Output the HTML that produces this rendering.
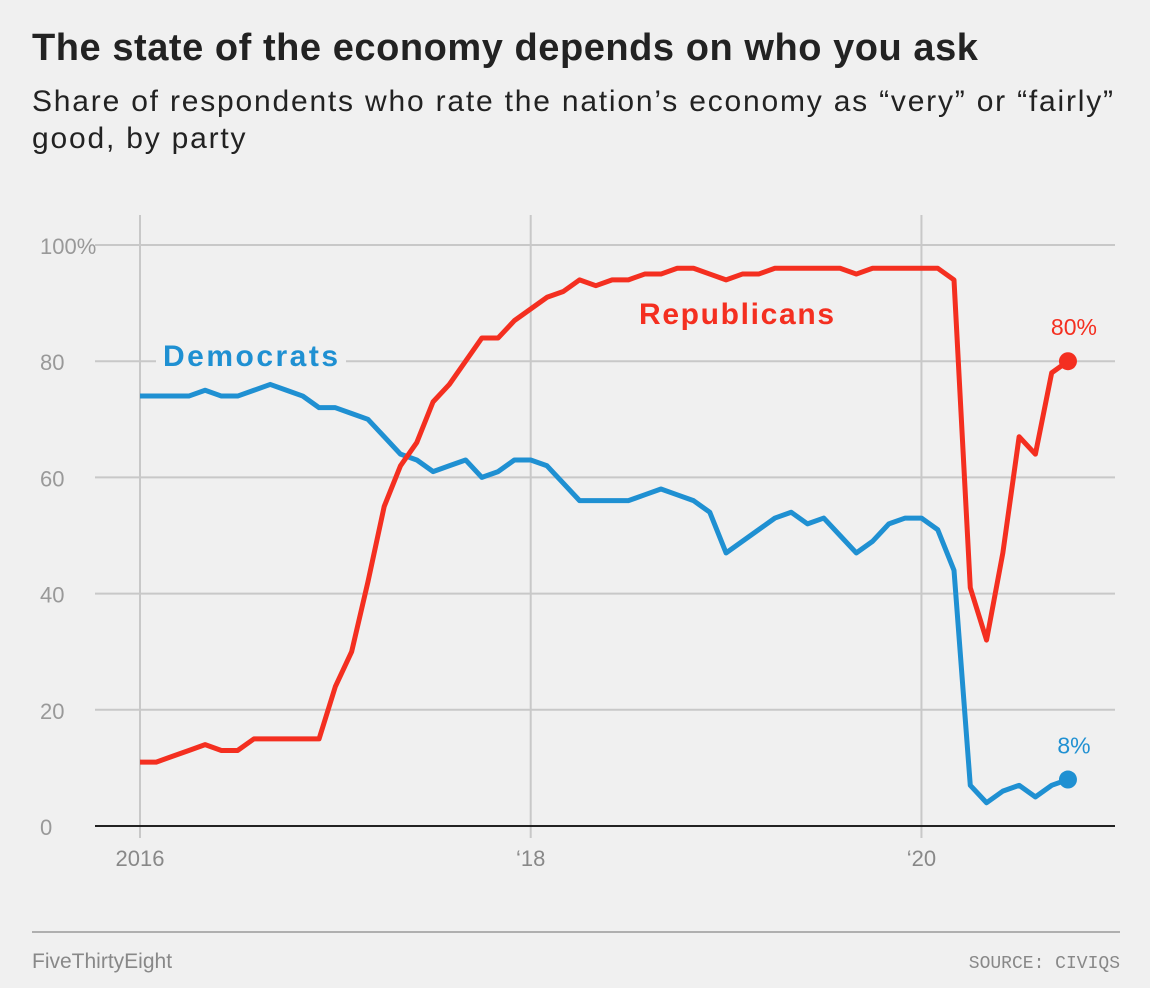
<!DOCTYPE html>
<html><head><meta charset="utf-8"><style>
body{margin:0;background:#f0f0f0;font-family:"Liberation Sans",sans-serif;}
#wrap{position:relative;width:1150px;height:988px;background:#f0f0f0;overflow:hidden}
h1{position:absolute;left:32px;top:27px;margin:0;font-size:38px;font-weight:bold;color:#222;letter-spacing:0.55px;white-space:nowrap}
.sub{position:absolute;left:32px;top:83px;font-size:30px;line-height:37px;color:#222;width:1110px;letter-spacing:1.8px;white-space:nowrap}
</style></head><body>
<div id="wrap">
<h1>The state of the economy depends on who you ask</h1>
<div class="sub">Share of respondents who rate the nation’s economy as “very” or “fairly”<br>good, by party</div>
<svg id="chart" width="1150" height="988" style="position:absolute;left:0;top:0"></svg>
</div>
<script>
const yTicks=[0,20,40,60,80,100];
const yTickLabels=["0","20","40","60","80","100%"];
const xTickMonths=[0,24,48];
const xTickLabels=["2016","‘18","‘20"];
const demValues=[74,74,74,74,75,74,74,75,76,75,74,72,72,71,70,67,64,63,61,62,63,60,61,63,63,62,59,56,56,56,56,57,58,57,56,54,47,49,51,53,54,52,53,50,47,49,52,53,53,51,44,7,4,6,7,5,7,8];
const repValues=[11,11,12,13,14,13,13,15,15,15,15,15,24,30,42,55,62,66,73,76,80,84,84,87,89,91,92,94,93,94,94,95,95,96,96,95,94,95,95,96,96,96,96,96,95,96,96,96,96,96,94,41,32,47,67,64,78,80];
const svg=document.getElementById('chart');
const NS='http://www.w3.org/2000/svg';
const x=i=>140+i*16.28;
const y=v=>826-v*5.81;
function mk(t,a){const e=document.createElementNS(NS,t);for(const k in a)e.setAttribute(k,a[k]);svg.appendChild(e);return e;}
yTicks.forEach((v,i)=>{
  if(v>0){const l=mk('line',{x1:95,x2:1115,y1:y(v),y2:y(v),stroke:'#c8c8c8','stroke-width':2});
  
  }
  const t=mk('text',{x:40,y:y(v)+9,'font-size':22,fill:'#999','font-family':'Liberation Sans, sans-serif'});
  t.textContent=yTickLabels[i];
  
  
});
xTickMonths.forEach((m,i)=>{
  const l=mk('line',{x1:x(m),x2:x(m),y1:215,y2:838,stroke:'#c8c8c8','stroke-width':2});
  
  
  const t=mk('text',{x:x(m),y:866,'font-size':22,fill:'#888','text-anchor':'middle','font-family':'Liberation Sans, sans-serif'});
  t.textContent=xTickLabels[i];
  
  
});
const base=mk('line',{x1:95,x2:1115,y1:y(0),y2:y(0),stroke:'#222','stroke-width':2});


function series(vals,col,name){
  const p=mk('polyline',{points:vals.map((v,i)=>x(i)+','+y(v)).join(' '),fill:'none',stroke:col,'stroke-width':5,'stroke-linejoin':'round'});
  
  
  const n=vals.length-1;
  const c=mk('circle',{cx:x(n),cy:y(vals[n]),r:9,fill:col});
  
  
  const t=mk('text',{x:x(n)+6,y:y(vals[n])-26,'font-size':23,fill:col,'text-anchor':'middle','font-family':'Liberation Sans, sans-serif'});
  t.textContent=vals[n]+'%';
  
  
}
series(demValues,'#1f90d2','democrats');
series(repValues,'#f42f20','republicans');
const r1=mk('rect',{x:156,y:338,width:190,height:36,fill:'#f0f0f0'});


const dl=mk('text',{x:163,y:366,'font-size':30,'font-weight':'bold',fill:'#1f90d2','font-family':'Liberation Sans, sans-serif','textLength':175});
dl.textContent='Democrats';


const rl=mk('text',{x:639,y:324,'font-size':30,'font-weight':'bold',fill:'#f42f20','font-family':'Liberation Sans, sans-serif','textLength':195});
rl.textContent='Republicans';


const fl=mk('line',{x1:32,x2:1120,y1:932,y2:932,stroke:'#999','stroke-width':1.5});


const f1=mk('text',{x:32,y:968,'font-size':21,fill:'#888','font-family':'Liberation Sans, sans-serif'});
f1.textContent='FiveThirtyEight';


const f2=mk('text',{x:1120,y:968,'font-size':18,fill:'#888','text-anchor':'end','font-family':'Liberation Mono, monospace'});
f2.textContent='SOURCE: CIVIQS';


</script>
</body></html>
